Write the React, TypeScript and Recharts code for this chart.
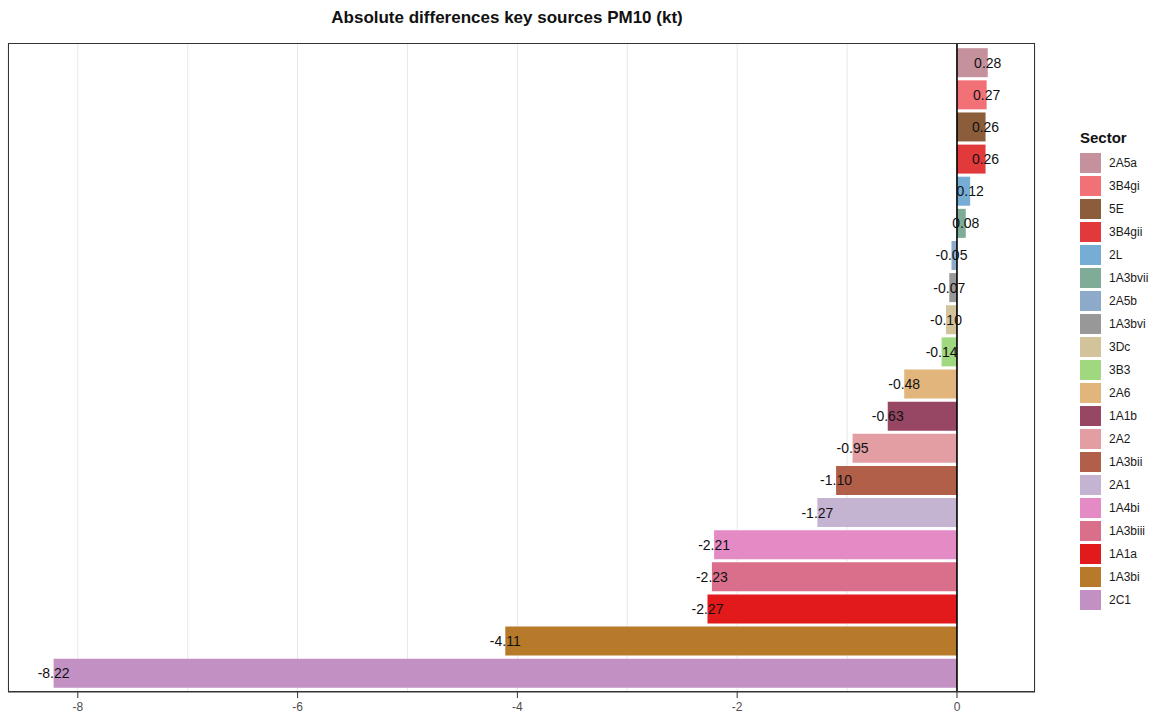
import React from "react";
import { BarChart, Bar, XAxis, YAxis, CartesianGrid, ReferenceLine, LabelList, Cell } from "recharts";

const sectors = [
  "2A5a", "3B4gi", "5E", "3B4gii", "2L", "1A3bvii", "2A5b", "1A3bvi", "3Dc", "3B3",
  "2A6", "1A1b", "2A2", "1A3bii", "2A1", "1A4bi", "1A3biii", "1A1a", "1A3bi", "2C1",
];
const values = [
  0.28, 0.27, 0.26, 0.26, 0.12, 0.08, -0.05, -0.07, -0.1, -0.14,
  -0.48, -0.63, -0.95, -1.1, -1.27, -2.21, -2.23, -2.27, -4.11, -8.22,
];
const colors = [
  "#c4919c", "#f17176", "#8b5d3b", "#e2393b", "#75add5", "#7eac96", "#8eaacb", "#989898", "#d3c39b", "#9fd87f",
  "#e1b57b", "#974663", "#e39ea3", "#b25f4a", "#c5b3d2", "#e48bc6", "#d96f8b", "#e31a1c", "#b77a2a", "#c290c3",
];
// grid at every integer, labels only on the even ones
const gridTicks = [-8, -7, -6, -5, -4, -3, -2, -1, 0];
const labelTicks = [-8, -6, -4, -2, 0];

const data = sectors.map((sector, i) => ({ sector, value: values[i], color: colors[i] }));

const font = "'Liberation Sans', Arial, sans-serif";
const W = 1162;
const H = 720;
const margin = { top: 43, right: 127, bottom: 0, left: 8 };
const axisH = 28;
const plotBottom = H - margin.bottom - axisH;

function BarLabel(props: any) {
  const { x, y, width, height, value } = props;
  const endX = value >= 0 ? Math.max(x, x + width) : Math.min(x, x + width);
  return (
    <text
      x={endX}
      y={y + height / 2}
      textAnchor="middle"
      dominantBaseline="central"
      fontSize={14}
      fill="#111"
      fontFamily={font}
    >
      {Number(value).toFixed(2)}
    </text>
  );
}

function XTick(props: any) {
  const { x, payload } = props;
  if (!labelTicks.includes(payload.value)) return null;
  return (
    <g>
      <line x1={x} x2={x} y1={plotBottom} y2={plotBottom + 6} stroke="#333" />
      <text x={x} y={plotBottom + 19} textAnchor="middle" fontSize={12} fill="#4d4d4d" fontFamily={font}>
        {payload.value}
      </text>
    </g>
  );
}

export default function App() {
  return (
    <div style={{ position: "absolute", left: 0, top: 0, width: W, height: H, background: "#fff", fontFamily: font }}>
      <div
        style={{
          position: "absolute",
          left: 507,
          top: 8,
          transform: "translateX(-50%)",
          fontSize: 17,
          fontWeight: "bold",
          whiteSpace: "nowrap",
          color: "#111",
        }}
      >
        Absolute differences key sources PM10 (kt)
      </div>

      <BarChart width={W} height={H} data={data} layout="vertical" margin={margin} style={{ fontFamily: font }}>
        <CartesianGrid horizontal={false} stroke="#e8e8e8" strokeWidth={1} />
        <XAxis
          type="number"
          domain={[-8.635, 0.71]}
          ticks={gridTicks}
          interval={0}
          allowDataOverflow
          height={axisH}
          axisLine={{ stroke: "#333" }}
          tickLine={false}
          tick={<XTick />}
        />
        <YAxis
          type="category"
          dataKey="sector"
          width={0}
          tick={false}
          tickLine={false}
          axisLine={false}
          padding={{ top: 3.2, bottom: 3.2 }}
        />
        <Bar dataKey="value" barSize={29} isAnimationActive={false}>
          {data.map((d) => (
            <Cell key={d.sector} fill={d.color} />
          ))}
          <LabelList dataKey="value" content={BarLabel} />
        </Bar>
        <ReferenceLine x={0} stroke="#000" strokeWidth={1.6} />
      </BarChart>

      <div
        style={{
          position: "absolute",
          left: margin.left,
          top: margin.top,
          width: W - margin.left - margin.right,
          height: plotBottom - margin.top,
          border: "1px solid #333",
          boxSizing: "border-box",
          pointerEvents: "none",
        }}
      />

      <div style={{ position: "absolute", left: 1080, top: 128 }}>
        <div style={{ fontSize: 15, fontWeight: "bold", color: "#111", height: 20, lineHeight: "20px", marginBottom: 5 }}>
          Sector
        </div>
        {data.map((d) => (
          <div key={d.sector} style={{ display: "flex", alignItems: "center", height: 20, marginBottom: 3 }}>
            <div style={{ width: 21, height: 20, background: d.color }} />
            <div style={{ marginLeft: 8, fontSize: 12, color: "#1a1a1a" }}>{d.sector}</div>
          </div>
        ))}
      </div>
    </div>
  );
}
